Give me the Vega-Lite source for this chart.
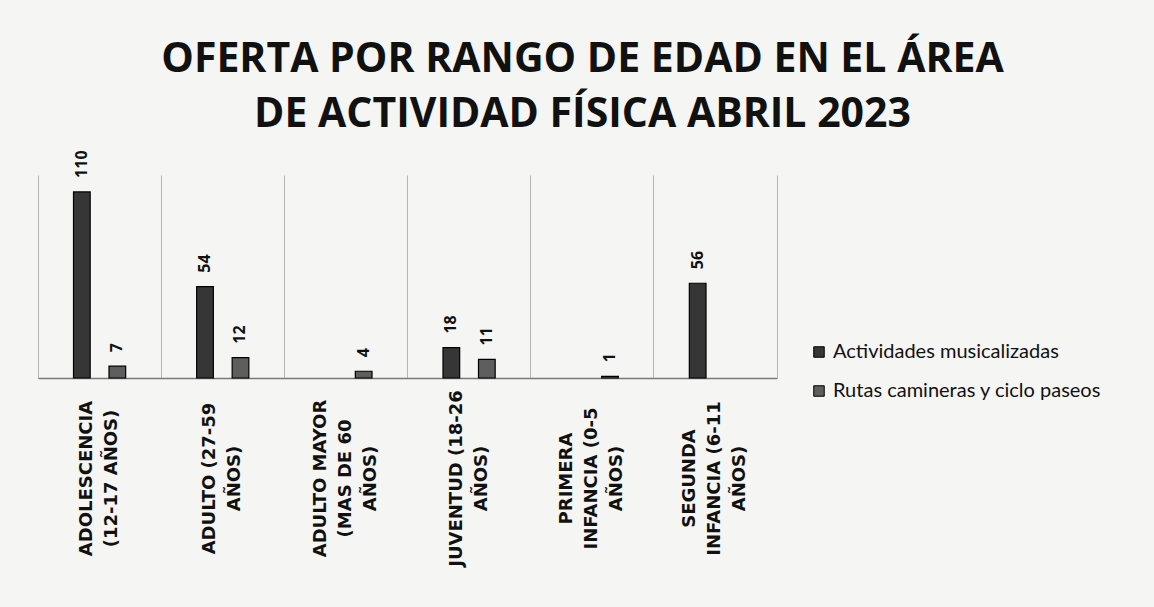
{
  "$schema": "https://vega.github.io/schema/vega-lite/v6.json",
  "width": 739,
  "height": 203,
  "autosize": {"type": "none"},
  "padding": {"left": 38, "top": 175, "right": 377, "bottom": 229},
  "background": "#f5f5f4",
  "title": {
    "text": ["OFERTA POR RANGO DE EDAD EN EL ÁREA", "DE ACTIVIDAD FÍSICA ABRIL 2023"],
    "font": "Open Sans",
    "fontSize": 41,
    "fontWeight": "bold",
    "color": "#111111",
    "lineHeight": 55,
    "anchor": "middle",
    "frame": "group",
    "dx": 175,
    "offset": 14
  },
  "data": {
    "values": [
      {"rango": "ADOLESCENCIA (12-17 AÑOS)", "serie": "Actividades musicalizadas", "valor": 110},
      {"rango": "ADOLESCENCIA (12-17 AÑOS)", "serie": "Rutas camineras y ciclo paseos", "valor": 7},
      {"rango": "ADULTO (27-59 AÑOS)", "serie": "Actividades musicalizadas", "valor": 54},
      {"rango": "ADULTO (27-59 AÑOS)", "serie": "Rutas camineras y ciclo paseos", "valor": 12},
      {"rango": "ADULTO MAYOR (MAS DE 60 AÑOS)", "serie": "Rutas camineras y ciclo paseos", "valor": 4},
      {"rango": "JUVENTUD (18-26 AÑOS)", "serie": "Actividades musicalizadas", "valor": 18},
      {"rango": "JUVENTUD (18-26 AÑOS)", "serie": "Rutas camineras y ciclo paseos", "valor": 11},
      {"rango": "PRIMERA INFANCIA (0-5 AÑOS)", "serie": "Rutas camineras y ciclo paseos", "valor": 1},
      {"rango": "SEGUNDA INFANCIA (6-11 AÑOS)", "serie": "Actividades musicalizadas", "valor": 56}
    ]
  },
  "encoding": {
    "x": {
      "field": "rango",
      "type": "nominal",
      "sort": ["ADOLESCENCIA (12-17 AÑOS)", "ADULTO (27-59 AÑOS)", "ADULTO MAYOR (MAS DE 60 AÑOS)", "JUVENTUD (18-26 AÑOS)", "PRIMERA INFANCIA (0-5 AÑOS)", "SEGUNDA INFANCIA (6-11 AÑOS)"],
      "scale": {"paddingInner": 0, "paddingOuter": 0},
      "axis": {
        "title": null,
        "bandPosition": 0,
        "grid": true,
        "gridColor": "#b5b5b5",
        "gridWidth": 1,
        "ticks": false,
        "domainColor": "#7a7a7a",
        "domainWidth": 1.5,
        "labelAngle": 270,
        "labelAlign": "center",
        "labelBaseline": "middle",
        "labelPadding": 100,
        "labelFont": "DejaVu Sans",
        "labelFontSize": 18,
        "labelFontWeight": "bold",
        "labelColor": "#111111",
        "labelLineHeight": 25,
        "labelLimit": 0,
        "labelOffset": {
          "condition": {"test": "indexof(['ADULTO MAYOR (MAS DE 60 AÑOS)', 'PRIMERA INFANCIA (0-5 AÑOS)', 'SEGUNDA INFANCIA (6-11 AÑOS)'], datum.value) >= 0", "value": -25},
          "value": -12.5
        },
        "labelExpr": "{'ADOLESCENCIA (12-17 AÑOS)': ['ADOLESCENCIA', '(12-17 AÑOS)'], 'ADULTO (27-59 AÑOS)': ['ADULTO (27-59', 'AÑOS)'], 'ADULTO MAYOR (MAS DE 60 AÑOS)': ['ADULTO MAYOR', '(MAS DE 60', 'AÑOS)'], 'JUVENTUD (18-26 AÑOS)': ['JUVENTUD (18-26', 'AÑOS)'], 'PRIMERA INFANCIA (0-5 AÑOS)': ['PRIMERA', 'INFANCIA (0-5', 'AÑOS)'], 'SEGUNDA INFANCIA (6-11 AÑOS)': ['SEGUNDA', 'INFANCIA (6-11', 'AÑOS)']}[datum.label]"
      }
    },
    "xOffset": {
      "field": "serie",
      "type": "nominal",
      "scale": {"domain": ["Actividades musicalizadas", "Rutas camineras y ciclo paseos"], "paddingInner": 0.53, "paddingOuter": 1.07}
    },
    "y": {
      "field": "valor",
      "type": "quantitative",
      "scale": {"domain": [0, 120], "nice": false},
      "axis": {
        "orient": "right",
        "title": null,
        "labels": false,
        "ticks": false,
        "grid": false,
        "domainColor": "#b5b5b5",
        "domainWidth": 1
      }
    }
  },
  "layer": [
    {
      "mark": {"type": "bar", "stroke": "#000000", "strokeWidth": 1.2},
      "encoding": {
        "color": {
          "field": "serie",
          "type": "nominal",
          "scale": {"domain": ["Actividades musicalizadas", "Rutas camineras y ciclo paseos"], "range": ["#363636", "#5e5e5e"]},
          "legend": {
            "title": null,
            "orient": "none",
            "legendX": 771,
            "legendY": 167,
            "symbolType": "square",
            "symbolSize": 110,
            "symbolStrokeColor": "#000000",
            "symbolStrokeWidth": 1,
            "labelFont": "Lato",
            "labelFontSize": 20,
            "labelColor": "#111111",
            "labelLimit": 0,
            "rowPadding": 19,
            "labelOffset": 4
          }
        }
      }
    },
    {
      "mark": {"type": "text", "angle": 270, "align": "left", "baseline": "middle", "dx": 14, "font": "Open Sans", "fontSize": 16, "fontWeight": "bold", "color": "#111111"},
      "encoding": {"text": {"field": "valor", "type": "quantitative"}}
    }
  ],
  "config": {"view": {"stroke": null}}
}
